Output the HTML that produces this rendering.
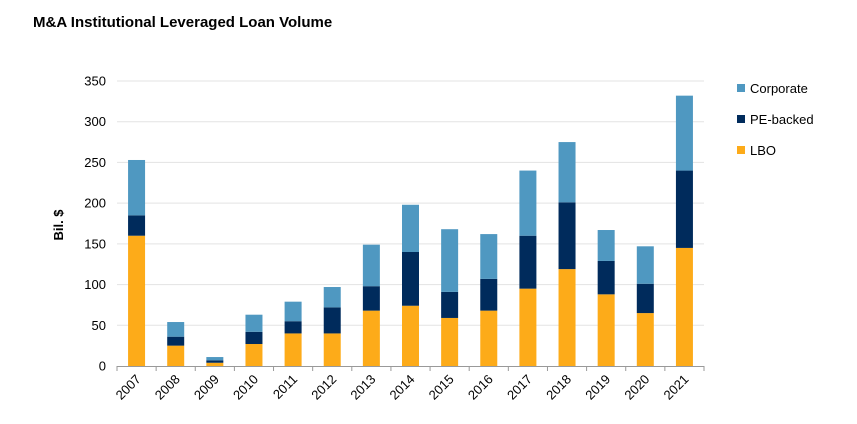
<!DOCTYPE html>
<html><head><meta charset="utf-8"><style>
body{margin:0;background:#fff;font-family:"Liberation Sans",Arial,sans-serif}
</style></head><body>
<svg width="857" height="419" xmlns="http://www.w3.org/2000/svg" font-family="Liberation Sans, Arial, sans-serif">
<text x="33" y="27" font-size="15" font-weight="bold" fill="#000">M&amp;A Institutional Leveraged Loan Volume</text>
<text transform="translate(63,225) rotate(-90)" text-anchor="middle" font-size="13" font-weight="bold">Bil. $</text>
<g id="grid"></g><g id="bars"></g><g id="axes"></g>
<g font-size="13">
<rect x="737" y="84" width="8" height="8" fill="#4f98c1"/>
<text x="750" y="93">Corporate</text>
<rect x="737" y="115" width="8" height="8" fill="#002b5c"/>
<text x="750" y="124">PE-backed</text>
<rect x="737" y="146" width="8" height="8" fill="#fdab19"/>
<text x="750" y="155">LBO</text>
</g>
</svg>
<script>
const categories=["2007","2008","2009","2010","2011","2012","2013","2014","2015","2016","2017","2018","2019","2020","2021"];
const lbo=[160,25,4,27,40,40,68,74,59,68,95,119,88,65,145];
const peBacked=[25,11,3,15,15,32,30,66,32,39,65,82,41,36,95];
const corporate=[68,18,4,21,24,25,51,58,77,55,80,74,38,46,92];
const yTicks=[0,50,100,150,200,250,300,350];
const NS="http://www.w3.org/2000/svg";
const x0=117,x1=704,y0=366,yTop=81,yMax=350;
const bw=(x1-x0)/categories.length;
function yS(v){return y0-(v/yMax)*(y0-yTop);}
function xS(i){return x0+bw*i+bw/2;}
function mk(tag,attrs,parent){const e=document.createElementNS(NS,tag);for(const k in attrs)e.setAttribute(k,attrs[k]);parent.appendChild(e);return e;}
const grid=document.getElementById('grid'),bars=document.getElementById('bars'),axes=document.getElementById('axes');
yTicks.forEach(t=>{
  if(t>0){const g=mk('line',{x1:x0,x2:x1,y1:yS(t),y2:yS(t),stroke:'#e3e3e3','stroke-width':1},grid);
  
  }
  const tx=mk('text',{x:x0-11,y:yS(t)+4.5,'text-anchor':'end','font-size':13},axes);tx.textContent=t;
  
  
});
const ax=mk('line',{x1:x0,x2:x1,y1:y0+0.5,y2:y0+0.5,stroke:'#999','stroke-width':1},axes);


const series=[[lbo,'#fdab19','lbo'],[peBacked,'#002b5c','pe-backed'],[corporate,'#4f98c1','corporate']];
categories.forEach((c,i)=>{
  let base=0;
  series.forEach(([arr,col,nm])=>{
    const v=arr[i];
    const r=mk('rect',{x:xS(i)-8.5,y:yS(base+v),width:17,height:yS(base)-yS(base+v),fill:col},bars);
    
    
    base+=v;
  });
  const tk=mk('line',{x1:x0+bw*i,x2:x0+bw*i,y1:y0,y2:y0+5,stroke:'#999'},axes);
  
  
  const lx=xS(i)+5,ly=y0+14;
  const t=mk('text',{x:lx,y:ly,'text-anchor':'end','font-size':13,transform:`rotate(-45 ${lx} ${ly})`},axes);
  t.textContent=c;
  
  
});
const lt=mk('line',{x1:x1,x2:x1,y1:y0,y2:y0+5,stroke:'#999'},axes);


</script>
</body></html>
